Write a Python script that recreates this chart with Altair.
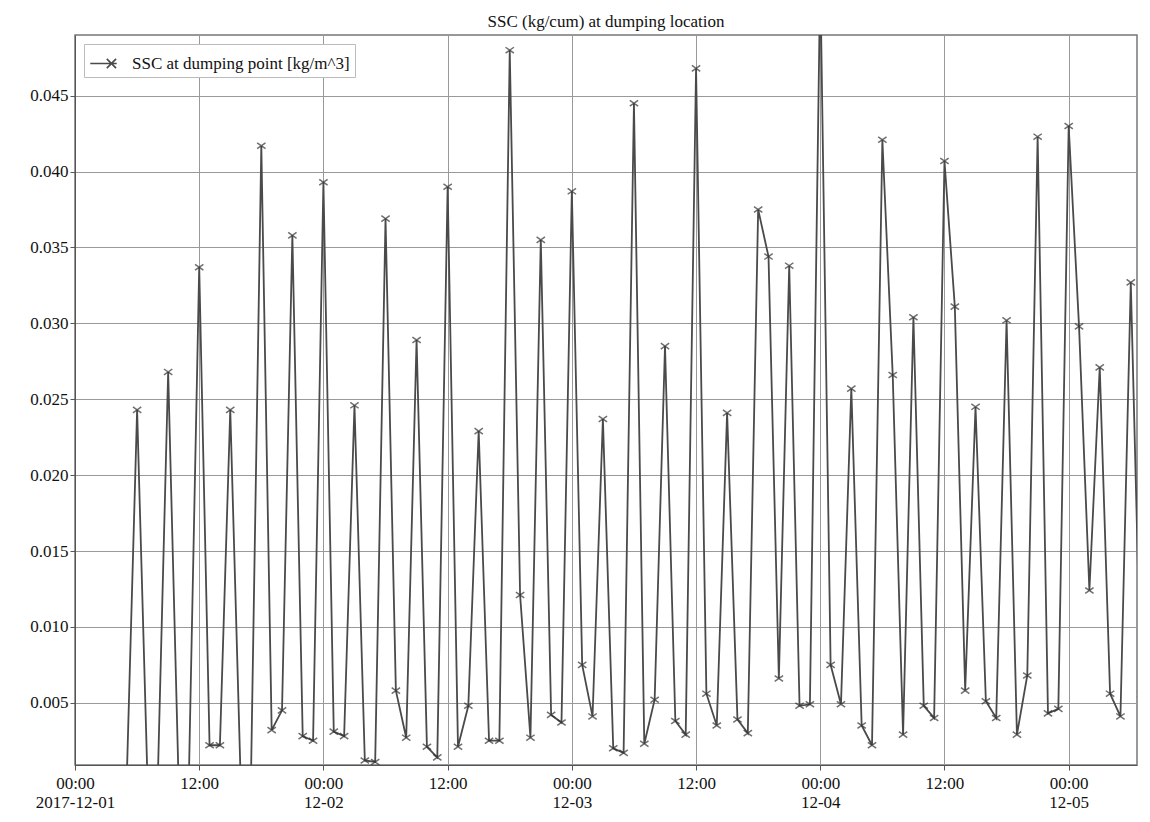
import altair as alt
import pandas as pd

# hourly samples starting 2017-12-01 00:00
start = "2017-12-01 00:00"
ssc = [
    0.0, 0.0, 0.0, 0.0, 0.0, 0.0, 0.0243, 0.0, 0.0, 0.0268,
    0.0, 0.0, 0.0337, 0.0022, 0.0022, 0.0243, 0.0, 0.0, 0.0417, 0.0032,
    0.0045, 0.0358, 0.0028, 0.0025, 0.0393, 0.0031, 0.0028, 0.0246, 0.0012, 0.0011,
    0.0369, 0.0058, 0.0027, 0.0289, 0.0021, 0.0014, 0.0390, 0.0021, 0.0048, 0.0229,
    0.0025, 0.0025, 0.0480, 0.0121, 0.0027, 0.0355, 0.0042, 0.0037, 0.0387, 0.0075,
    0.0041, 0.0237, 0.0020, 0.0017, 0.0445, 0.0023, 0.0052, 0.0285, 0.0038, 0.0029,
    0.0468, 0.0056, 0.0035, 0.0241, 0.0039, 0.0030, 0.0375, 0.0344, 0.0066, 0.0338,
    0.0048, 0.0049, 0.0530, 0.0075, 0.0049, 0.0257, 0.0035, 0.0022, 0.0421, 0.0266,
    0.0029, 0.0304, 0.0048, 0.0040, 0.0407, 0.0311, 0.0058, 0.0245, 0.0051, 0.0040,
    0.0302, 0.0029, 0.0068, 0.0423, 0.0043, 0.0046, 0.0430, 0.0298, 0.0124, 0.0271,
    0.0056, 0.0041, 0.0327, 0.0056,
]
times = pd.date_range(start, periods=len(ssc), freq="h").strftime("%Y-%m-%dT%H:%M:%S").tolist()
series_name = "SSC at dumping point [kg/m^3]"
y_major_ticks = [0.005, 0.010, 0.015, 0.020, 0.025, 0.030, 0.035, 0.040, 0.045]
x_tick_days = [1, 1, 2, 2, 3, 3, 4, 4, 5]
x_tick_hours = [0, 12, 0, 12, 0, 12, 0, 12, 0]

df = pd.DataFrame({"time": times, "ssc": ssc, "series": series_name})

SERIF = "Liberation Serif, Times New Roman, serif"

x_values = [
    alt.DateTime(year=2017, month=12, date=d, hours=h) for d, h in zip(x_tick_days, x_tick_hours)
]

x_enc = alt.X(
    "time:T",
    scale=alt.Scale(
        domain=[
            alt.DateTime(year=2017, month=12, date=1, hours=0, minutes=0),
            alt.DateTime(year=2017, month=12, date=5, hours=6, minutes=36),
        ],
        nice=False,
    ),
    axis=alt.Axis(
        title=None,
        values=x_values,
        labelExpr="hours(datum.value)==0 ? [timeFormat(datum.value,'%H:%M'), (date(datum.value)==1 && month(datum.value)==11) ? timeFormat(datum.value,'%Y-%m-%d') : timeFormat(datum.value,'%m-%d')] : '12:00'",
        labelOverlap=False,
        labelFlush=False,
        labelFont=SERIF,
        labelFontSize=17,
        labelColor="#111",
        labelPadding=5,
        tickSize=5,
        tickColor="#555",
        domainColor="#555",
        gridColor="#999",
    ),
)
y_enc = alt.Y(
    "ssc:Q",
    scale=alt.Scale(domain=[0.0009, 0.049], nice=False, zero=False),
    axis=alt.Axis(
        title=None,
        values=y_major_ticks,
        format=".3f",
        labelFont=SERIF,
        labelFontSize=17,
        labelColor="#111",
        labelPadding=2,
        tickSize=5,
        tickColor="#555",
        domainColor="#555",
        gridColor="#999",
        minExtent=62,
        maxExtent=62,
    ),
)

line = alt.Chart(df).mark_line(clip=True, strokeWidth=1.8).encode(
    x=x_enc,
    y=y_enc,
    color=alt.Color(
        "series:N",
        scale=alt.Scale(range=["#4a4a4a"]),
        legend=alt.Legend(
            title=None,
            orient="top-left",
            offset=9,
            symbolType="M-1,0L1,0M0.25,-0.35L0.95,0.35M0.25,0.35L0.95,-0.35",
            symbolSize=700,
            symbolStrokeWidth=1.6,
            labelFont=SERIF,
            labelFontSize=17,
            labelColor="#111",
            labelOffset=14,
            labelLimit=500,
            strokeColor="#bbb",
            fillColor="white",
            padding=5,
        ),
    ),
)

points = alt.Chart(df).mark_point(
    clip=True,
    shape="M-1,-0.7L1,0.7M-1,0.7L1,-0.7",
    size=70,
    strokeWidth=1.5,
).encode(x="time:T", y="ssc:Q", color=alt.value("#333"))

chart = (
    alt.layer(line, points)
    .properties(
        width=1062,
        height=730,
        title=alt.TitleParams(
            text="SSC (kg/cum) at dumping location",
            font=SERIF,
            fontSize=17,
            fontWeight="normal",
            color="#111",
            anchor="middle",
        ),
    )
    .configure_view(stroke="#777", strokeWidth=1.5)
)

chart.save("out.html", embed_options={"renderer": "svg", "actions": False})
